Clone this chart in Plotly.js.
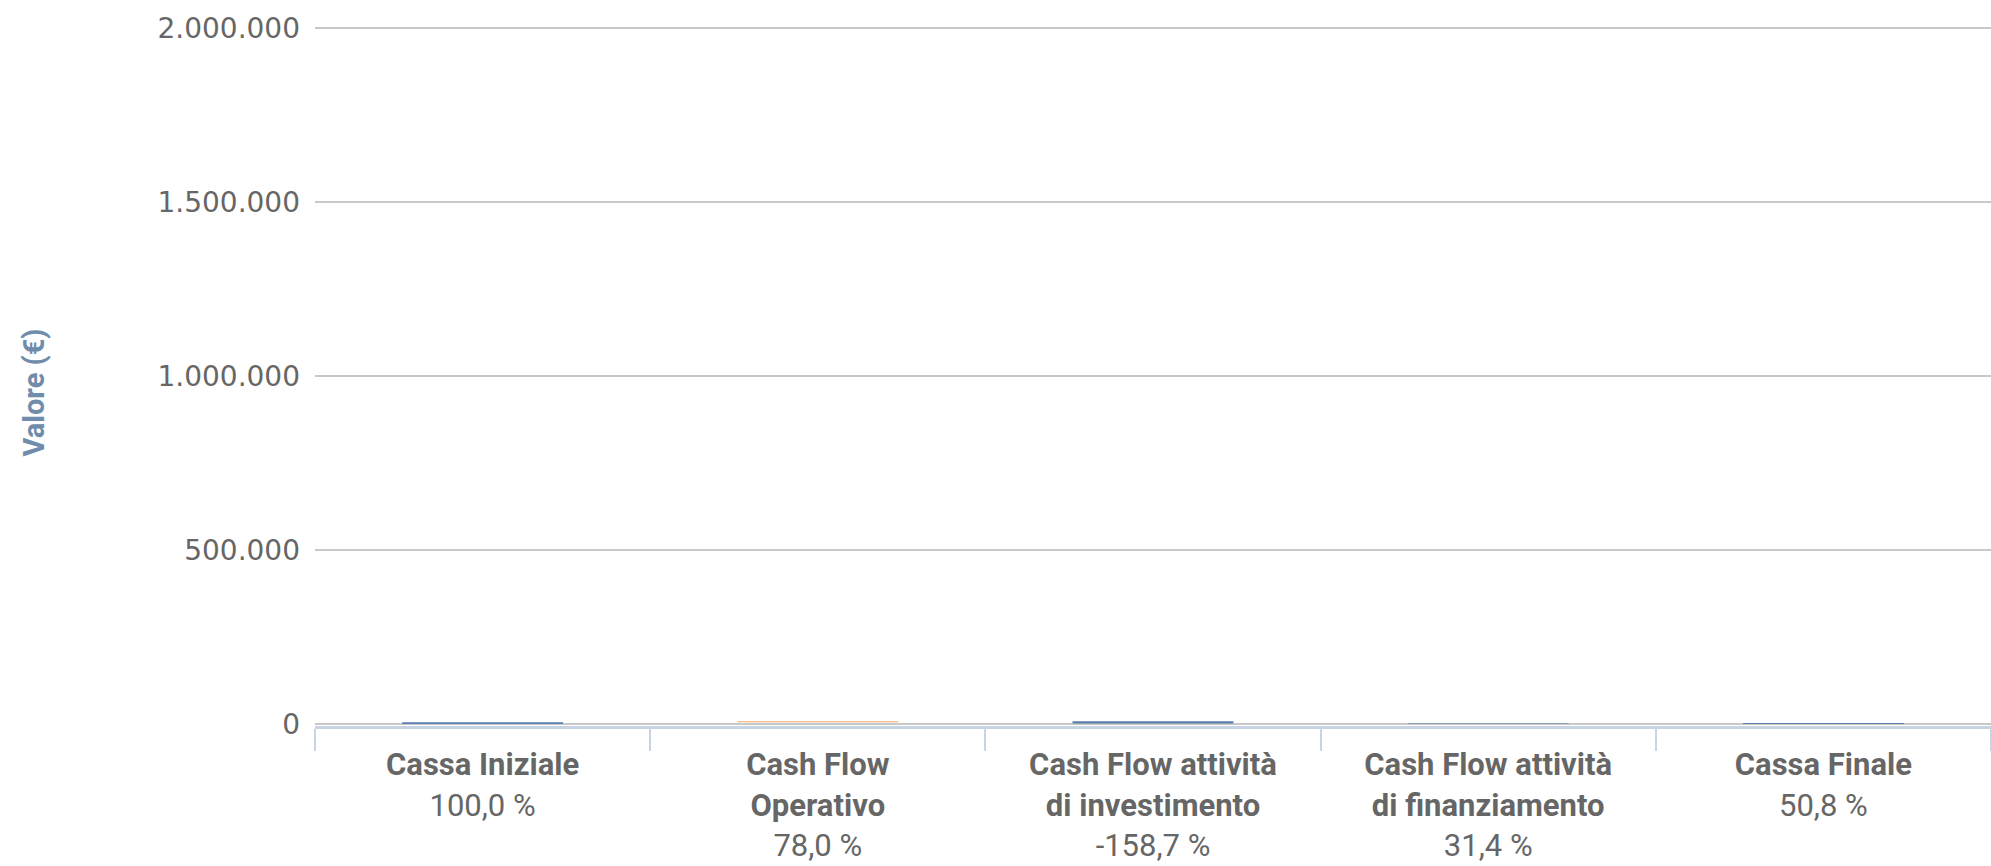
<!DOCTYPE html>
<html>
<head>
<meta charset="utf-8">
<script src="https://cdn.plot.ly/plotly-3.0.1.min.js"></script>
<style>html,body{margin:0;padding:0;background:#fff;}#chart{width:1991px;height:866px;}</style>
</head>
<body>
<div id="chart"></div>
<script>
// Categories (bold names) and percentage labels
const categories = ["Cassa Iniziale", "Cash Flow<br>Operativo", "Cash Flow attività<br>di investimento", "Cash Flow attività<br>di finanziamento", "Cassa Finale"];
const percentLabels = ["100,0 %", "78,0 %", "-158,7 %", "31,4 %", "50,8 %"];
// Values (€) – tiny compared to the axis range, read as near-zero bars
const values = [4500, 3510, -7142, 1413, 2286];
const isTotal = [true, false, false, false, true];
const barColors = ["#5b7fae", "#f2a66a", "#5b7fae", "#5b7fae", "#5b7fae"];
const yTickVals = [0, 500000, 1000000, 1500000, 2000000];
const yTitle = "Valore (€)";

// waterfall bases from the values
const bases = [];
let running = 0;
values.forEach((v, i) => {
  if (isTotal[i]) { bases.push(0); running = v; }
  else { bases.push(running); running += v; }
});

const tickText = categories.map((c, i) =>
  c.split("<br>").map(s => "<b>" + s + "</b>").join("<br>") + "<br>" + percentLabels[i]);

const trace = {
  type: "bar",
  x: categories,
  y: values,
  base: bases,
  marker: { color: barColors, line: { width: 0 } },
  width: 0.48,
  hoverinfo: "none"
};

const layout = {
  width: 1991, height: 866,
  margin: { l: 315, r: 0, t: 27, b: 140 },
  paper_bgcolor: "#ffffff",
  plot_bgcolor: "#ffffff",
  separators: ",.",
  showlegend: false,
  font: { family: "DejaVu Sans, sans-serif", color: "#666666" },
  xaxis: {
    type: "category",
    tickmode: "array",
    tickvals: categories,
    ticktext: tickText,
    tickson: "boundaries",
    ticks: "outside",
    ticklen: 22,
    tickwidth: 2,
    tickcolor: "#c6d4e3",
    showline: true,
    linecolor: "#c6d4e3",
    linewidth: 3,
    showgrid: false,
    zeroline: false,
    tickangle: 0,
    ticklabelstandoff: 9,
    tickfont: { family: "Roboto, sans-serif", size: 31, color: "#666666" },
    range: [-0.5, 4.5]
  },
  yaxis: {
    range: [-6000, 2003000],
    tickmode: "array",
    tickvals: yTickVals,
    tickformat: ",d",
    showgrid: true,
    gridcolor: "#c8c8c8",
    gridwidth: 2,
    zeroline: false,
    showline: false,
    ticks: "",
    ticklabelstandoff: 14,
    tickfont: { family: "DejaVu Sans, sans-serif", size: 28, color: "#666666" }
  },
  annotations: [{
    text: "<b>" + yTitle + "</b>",
    textangle: -90,
    xref: "paper", yref: "paper",
    x: -315 / 1676 + 34 / 1676, xanchor: "center",
    y: 0.477, yanchor: "middle",
    showarrow: false,
    font: { family: "Roboto, sans-serif", size: 29, color: "#6f8cab" }
  }]
};

Plotly.newPlot("chart", [trace], layout, { displayModeBar: false, staticPlot: true });
</script>
</body>
</html>
